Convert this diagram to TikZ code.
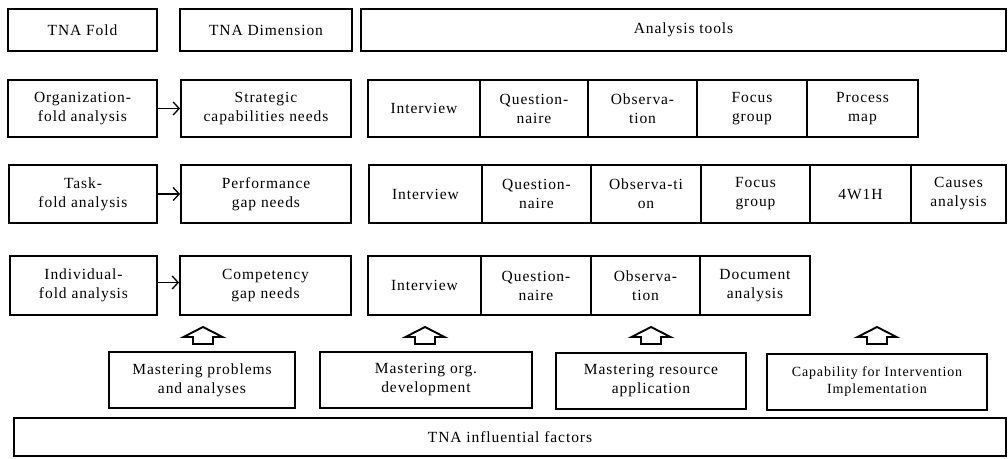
\documentclass[tikz,border=0pt]{standalone}
\usepackage{fontspec}
\setmainfont{Liberation Serif}[LetterSpace=6]
\usetikzlibrary{arrows.meta,calc}
\newcommand{\mybox}[7][cell]{%
  \node[#1, minimum width={(#4)-(#3)}, minimum height={(#6)-(#5)}] (#2) at ({((#3)+(#4))/2},{((#5)+(#6))/2}) {#7};}
\tikzset{
  cell/.style={draw, line width=1.9pt, align=center, inner sep=0pt, font=\fontsize{15.5}{19}\selectfont},
  heavy/.style={cell, line width=2.9pt},
  small/.style={cell, font=\fontsize{14}{17}\selectfont},
  link/.style={line width=1.3pt, -{Straight Barb[length=6pt,width=13pt,line width=1.3pt]}},
  uparrow/.pic={\draw[line width=1.9pt, line join=miter] (0,0) -- (19.5,10) -- (10,10) -- (10,17) -- (-10,17) -- (-10,10) -- (-19.5,10) -- cycle;}
}
\begin{document}
\begin{tikzpicture}[x=1pt,y=-1pt]
\useasboundingbox (0,0) rectangle (1008,458);
% header
\mybox[heavy]{hfold}{8}{157}{9}{51}{TNA Fold}
\mybox[heavy]{hdim}{180}{352}{9}{51}{TNA Dimension}
\mybox[heavy]{htools}{361}{1006}{9}{51}{Analysis tools}
% row 1
\mybox{org}{8}{157}{80}{137}{Organization-\\fold analysis}
\mybox{strat}{181}{351}{80}{137}{Strategic\\capabilities needs}
\mybox{a1}{368}{480}{80}{137}{Interview}
\mybox{a2}{480}{588}{80}{137}{Question-\\naire}
\mybox{a3}{588}{697}{80}{137}{Observa-\\tion}
\mybox{a4}{697}{807}{80}{137}{Focus\\group}
\mybox{a5}{807}{918}{80}{137}{Process\\map}
% row 2
\mybox{task}{9}{157}{165}{223}{Task-\\fold analysis}
\mybox{perf}{181}{351}{165}{223}{Performance\\gap needs}
\mybox{b1}{369}{482}{165}{223}{Interview}
\mybox{b2}{482}{591}{165}{223}{Question-\\naire}
\mybox{b3}{591}{701}{165}{223}{Observa-ti\\on}
\mybox{b4}{701}{810}{165}{223}{Focus\\group}
\mybox{b5}{810}{911}{165}{223}{4W1H}
\mybox{b6}{911}{1006}{165}{223}{Causes\\analysis}
% row 3
\mybox{indiv}{10}{157}{256}{315}{Individual-\\fold analysis}
\mybox{comp}{180}{351}{256}{315}{Competency\\gap needs}
\mybox{c1}{368}{481}{256}{315}{Interview}
\mybox{c2}{481}{591}{256}{315}{Question-\\naire}
\mybox{c3}{591}{700}{256}{315}{Observa-\\tion}
\mybox{c4}{700}{810}{256}{315}{Document\\analysis}
% arrows between fold and dimension
\draw[link] (org.east) -- (strat.west);
\draw[link] (task.east) -- (perf.west);
\draw[link] ([yshift=3pt]indiv.east) -- ([yshift=3pt]comp.west);
% up arrows
\pic at (203,327) {uparrow};
\pic at (425,327) {uparrow};
\pic at (651,327) {uparrow};
\pic at (877,327) {uparrow};
% bottom boxes
\mybox{mp}{109}{295}{352}{408}{Mastering problems\\and analyses}
\mybox{mo}{320}{532}{352}{408}{Mastering org.\\development}
\mybox{mr}{556}{746}{353}{409}{Mastering resource\\application}
\mybox[small]{cap}{767}{987}{354}{410}{Capability for Intervention\\Implementation}
\mybox[heavy]{infl}{14}{1006}{418}{456}{TNA influential factors}
\end{tikzpicture}
\end{document}
